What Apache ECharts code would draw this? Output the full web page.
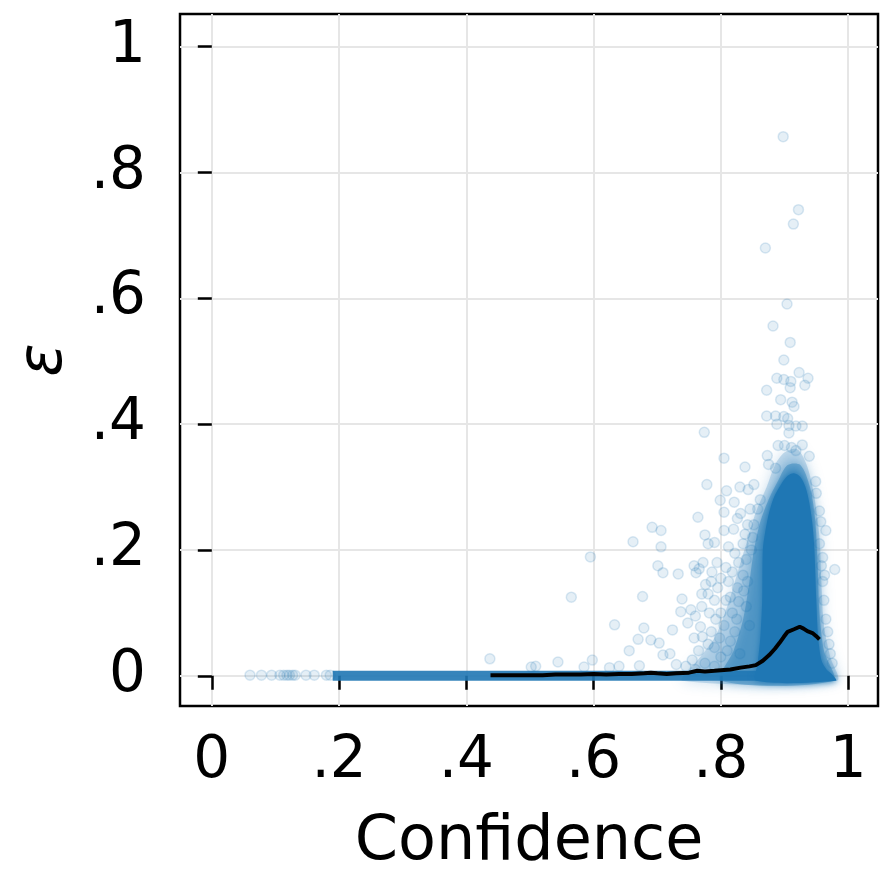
<!DOCTYPE html>
<html>
<head>
<meta charset="utf-8">
<script src="https://cdn.jsdelivr.net/npm/echarts@6/dist/echarts.min.js"></script>
<style>
  html, body { margin: 0; padding: 0; background: #fff; }
  #chart { width: 892px; height: 888px; }
</style>
</head>
<body>
<div id="chart"></div>
<script>
// tick positions shared by both axes
var axisTicks = [0, 0.2, 0.4, 0.6, 0.8, 1];

// running mean of epsilon vs confidence (black line)
var meanX = [0.438, 0.46, 0.48, 0.50, 0.52, 0.54, 0.56, 0.58, 0.60, 0.62, 0.64, 0.66, 0.68, 0.69, 0.70, 0.715, 0.73, 0.75, 0.763, 0.775, 0.79, 0.80, 0.815, 0.831, 0.845, 0.855, 0.866, 0.876, 0.885, 0.892, 0.899, 0.905, 0.915, 0.924, 0.93, 0.936, 0.944, 0.95, 0.955];
var meanY = [0.001, 0.001, 0.001, 0.001, 0.001, 0.002, 0.002, 0.002, 0.003, 0.002, 0.003, 0.003, 0.004, 0.005, 0.004, 0.003, 0.004, 0.005, 0.008, 0.007, 0.008, 0.009, 0.010, 0.013, 0.015, 0.017, 0.024, 0.033, 0.043, 0.052, 0.062, 0.070, 0.074, 0.078, 0.075, 0.071, 0.068, 0.063, 0.058];

// saturated core of the cloud (outline, clockwise)
var coreX = [0.856, 0.858, 0.862, 0.865, 0.866, 0.870, 0.876, 0.884, 0.895, 0.905, 0.915, 0.925, 0.933, 0.939, 0.944, 0.947, 0.950, 0.953, 0.958, 0.966, 0.975, 0.981];
var coreY = [-0.008, 0.02, 0.06, 0.12, 0.20, 0.23, 0.26, 0.285, 0.305, 0.318, 0.322, 0.316, 0.300, 0.275, 0.240, 0.200, 0.120, 0.060, 0.025, 0.010, 0.002, -0.008];

// medium density halo around the core
var haloInnerX = [0.80, 0.82, 0.835, 0.845, 0.852, 0.862, 0.875, 0.89, 0.905, 0.925, 0.94, 0.948, 0.952, 0.955, 0.962, 0.976];
var haloInnerY = [-0.008, 0.04, 0.09, 0.15, 0.20, 0.245, 0.28, 0.31, 0.335, 0.335, 0.30, 0.25, 0.18, 0.10, 0.04, -0.008];
var haloOuterX = [0.74, 0.76, 0.79, 0.81, 0.825, 0.84, 0.855, 0.872, 0.885, 0.90, 0.92, 0.935, 0.946, 0.955, 0.958, 0.962, 0.972, 0.982];
var haloOuterY = [-0.008, 0.02, 0.06, 0.11, 0.16, 0.21, 0.26, 0.30, 0.335, 0.355, 0.36, 0.335, 0.29, 0.22, 0.15, 0.08, 0.03, -0.008];

// dense strip of points along epsilon = 0
var bandX = [0.19, 0.86, 0.86, 0.19];
var bandY = [-0.008, -0.008, 0.008, 0.008];

// individual points that stand out of the cloud
var scatterPoints = [
  [0.898, 0.857], [0.922, 0.741], [0.914, 0.718], [0.870, 0.680], [0.904, 0.591], [0.882, 0.556],
  [0.909, 0.530], [0.899, 0.502], [0.923, 0.482], [0.937, 0.473], [0.888, 0.473], [0.899, 0.471],
  [0.910, 0.468], [0.909, 0.458], [0.932, 0.462], [0.872, 0.454], [0.894, 0.439], [0.912, 0.435],
  [0.915, 0.428], [0.872, 0.413], [0.886, 0.413], [0.899, 0.412], [0.905, 0.409], [0.888, 0.400],
  [0.907, 0.398], [0.918, 0.397], [0.928, 0.397], [0.774, 0.387], [0.907, 0.386], [0.928, 0.367],
  [0.890, 0.366], [0.900, 0.366], [0.911, 0.363], [0.918, 0.358], [0.805, 0.346], [0.838, 0.332],
  [0.873, 0.350], [0.875, 0.336], [0.886, 0.330], [0.939, 0.349], [0.778, 0.304], [0.830, 0.300],
  [0.843, 0.296], [0.852, 0.304], [0.809, 0.294], [0.799, 0.279], [0.821, 0.276], [0.805, 0.260],
  [0.764, 0.252], [0.949, 0.309], [0.950, 0.290], [0.955, 0.262], [0.957, 0.245], [0.965, 0.231],
  [0.826, 0.250], [0.831, 0.258], [0.692, 0.236], [0.706, 0.231], [0.775, 0.224], [0.662, 0.213],
  [0.706, 0.205], [0.805, 0.231], [0.820, 0.233], [0.790, 0.212], [0.780, 0.210], [0.979, 0.169],
  [0.960, 0.188], [0.701, 0.175], [0.709, 0.164], [0.733, 0.162], [0.758, 0.175], [0.761, 0.164],
  [0.766, 0.170], [0.772, 0.180], [0.786, 0.165], [0.794, 0.180], [0.808, 0.172], [0.677, 0.126],
  [0.739, 0.122], [0.737, 0.102], [0.753, 0.105], [0.748, 0.084], [0.633, 0.081], [0.679, 0.076],
  [0.724, 0.073], [0.670, 0.058], [0.690, 0.057], [0.703, 0.052], [0.656, 0.040], [0.709, 0.033],
  [0.720, 0.035], [0.771, 0.062], [0.565, 0.125], [0.595, 0.189], [0.437, 0.027], [0.509, 0.015],
  [0.502, 0.014], [0.544, 0.022], [0.598, 0.025], [0.585, 0.014], [0.672, 0.016], [0.640, 0.015],
  [0.625, 0.013], [0.760, 0.095], [0.770, 0.110], [0.780, 0.130], [0.776, 0.145], [0.790, 0.120],
  [0.800, 0.100], [0.795, 0.140], [0.812, 0.150], [0.815, 0.125], [0.826, 0.140], [0.835, 0.160],
  [0.840, 0.185], [0.848, 0.200], [0.850, 0.220], [0.852, 0.240], [0.858, 0.265], [0.862, 0.280],
  [0.835, 0.210], [0.822, 0.195], [0.805, 0.080], [0.785, 0.070], [0.790, 0.045], [0.765, 0.040],
  [0.755, 0.025], [0.775, 0.020], [0.800, 0.030], [0.815, 0.055], [0.825, 0.090], [0.840, 0.110],
  [0.845, 0.080], [0.830, 0.035], [0.745, 0.015], [0.730, 0.018], [0.960, 0.150], [0.962, 0.120],
  [0.965, 0.090], [0.968, 0.070], [0.970, 0.050], [0.972, 0.035], [0.975, 0.020], [0.955, 0.210],
  [0.958, 0.175], [0.963, 0.160],
  [0.782, 0.100], [0.768, 0.078], [0.758, 0.060], [0.792, 0.090], [0.808, 0.120], [0.818, 0.100],
  [0.828, 0.118], [0.836, 0.135], [0.842, 0.150], [0.818, 0.165], [0.828, 0.180], [0.812, 0.205],
  [0.842, 0.240], [0.846, 0.265], [0.838, 0.225], [0.800, 0.155], [0.785, 0.150], [0.770, 0.130],
  [0.780, 0.050], [0.810, 0.040], [0.822, 0.070], [0.798, 0.060], [0.760, 0.010], [0.790, 0.015],
  [0.060, 0.001], [0.078, 0.001], [0.094, 0.001], [0.107, 0.001], [0.113, 0.001], [0.118, 0.001],
  [0.122, 0.001], [0.127, 0.001], [0.131, 0.001], [0.148, 0.001], [0.161, 0.001], [0.180, 0.001],
  [0.186, 0.001]
];

var blue = '#1f77b4';

function tickLabel(v) {
  if (v === 0) return '0';
  if (v === 1) return '1';
  return String(+v.toFixed(1)).replace(/^0/, '');
}

function polygonSeries(xs, ys, opacity, blur, smooth) {
  return {
    type: 'custom',
    silent: true,
    clip: false,
    data: [[xs[0], ys[0]]],
    renderItem: function (params, api) {
      var pts = xs.map(function (x, i) { return api.coord([x, ys[i]]); });
      return {
        type: 'polygon',
        shape: { points: pts, smooth: smooth },
        style: {
          fill: blue,
          opacity: opacity,
          shadowBlur: blur,
          shadowColor: blue
        }
      };
    }
  };
}

var chart = echarts.init(document.getElementById('chart'), null, { renderer: 'canvas' });

var font = 'DejaVu Sans';
chart.setOption({
  animation: false,
  backgroundColor: '#fff',
  grid: {
    left: 180, top: 14, width: 698, height: 692,
    outerBoundsMode: 'none',
    containLabel: false,
    show: true, borderColor: '#000', borderWidth: 2.5
  },
  xAxis: {
    type: 'value',
    min: -0.05, max: 1.047,
    name: 'Confidence',
    nameLocation: 'middle',
    nameGap: 106,
    nameTextStyle: { fontFamily: font, fontSize: 62, color: '#000' },
    axisLine: { show: false },
    axisTick: { show: true, length: 14, lineStyle: { color: '#000', width: 2.5 }, customValues: axisTicks },
    axisLabel: { fontFamily: font, fontSize: 58, color: '#000', margin: 27, formatter: tickLabel, customValues: axisTicks },
    splitLine: { show: true, lineStyle: { color: '#e6e6e6', width: 2 } }
  },
  yAxis: {
    type: 'value',
    min: -0.048, max: 1.052,
    name: 'ε',
    nameLocation: 'middle',
    nameRotate: 90,
    nameGap: 104,
    nameTextStyle: { fontFamily: font, fontSize: 62, fontStyle: 'italic', color: '#000' },
    axisLine: { show: false },
    axisTick: { show: true, length: 14, lineStyle: { color: '#000', width: 2.5 }, customValues: axisTicks },
    axisLabel: { fontFamily: font, fontSize: 58, color: '#000', margin: 34, formatter: tickLabel, customValues: axisTicks },
    splitLine: { show: true, lineStyle: { color: '#e6e6e6', width: 2 } }
  },
  series: [
    polygonSeries(haloOuterX, haloOuterY, 0.22, 14, 0.3),
    polygonSeries(haloInnerX, haloInnerY, 0.4, 10, 0.3),
    polygonSeries(bandX, bandY, 0.9, 0, 0),
    polygonSeries(coreX, coreY, 1, 6, 0.3),
    {
      type: 'scatter',
      clip: false,
      silent: true,
      symbolSize: 10,
      itemStyle: {
        color: 'rgba(31,119,180,0.15)',
        borderColor: 'rgba(31,119,180,0.2)',
        borderWidth: 1.5
      },
      data: scatterPoints
    },
    {
      type: 'line',
      clip: false,
      silent: true,
      symbol: 'none',
      lineStyle: { color: '#000', width: 4 },
      data: meanX.map(function (x, i) { return [x, meanY[i]]; })
    }
  ]
});
</script>
</body>
</html>
